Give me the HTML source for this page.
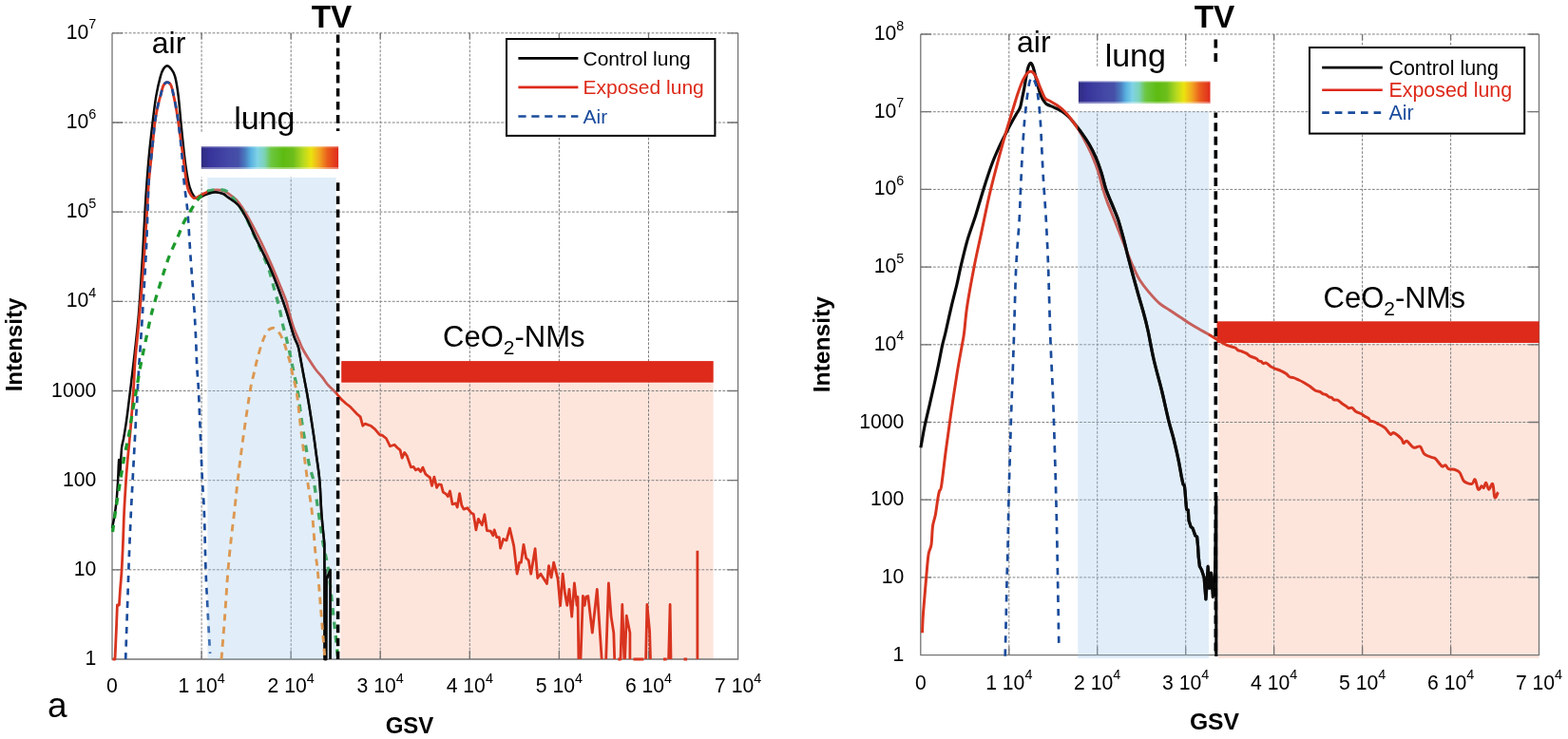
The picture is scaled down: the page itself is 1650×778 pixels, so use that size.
<!DOCTYPE html>
<html><head><meta charset="utf-8"><title>Figure</title>
<style>html,body{margin:0;padding:0;background:#fff;width:1650px;height:778px;overflow:hidden}svg{display:block}</style>
</head><body>
<svg width="1650" height="778" viewBox="0 0 1650 778" font-family="'Liberation Sans', Arial, sans-serif">
<rect width="1650" height="778" fill="#fff"/>
<defs><clipPath id="clipA"><rect x="218.3" y="186.9" width="135.3" height="510"/></clipPath><clipPath id="clipB"><rect x="1134.2" y="117.4" width="137.8" height="580"/></clipPath></defs>
<rect x="358.4" y="402.6" width="392.3" height="291.4" fill="#fde5dc"/>
<path d="M212.1,34.8V694M306.2,34.8V694M400.2,34.8V694M494.3,34.8V694M588.4,34.8V694M682.5,34.8V694M118,599.8H776.6M118,505.7H776.6M118,411.5H776.6M118,317.3H776.6M118,223.1H776.6M118,129H776.6M118,34.8H776.6" stroke="#808080" stroke-width="1" stroke-dasharray="2.8 1.6" fill="none"/>
<rect x="204" y="139" width="158" height="47.5" fill="#fff"/>
<path d="M118,34.8V694H776.6V34.8M212.1,694v-9M212.1,34.8v6M306.2,694v-9M306.2,34.8v6M400.2,694v-9M400.2,34.8v6M494.3,694v-9M494.3,34.8v6M588.4,694v-9M588.4,34.8v6M682.5,694v-9M682.5,34.8v6M118,599.8h11M776.6,599.8h-11M118,505.7h11M776.6,505.7h-11M118,411.5h11M776.6,411.5h-11M118,317.3h11M776.6,317.3h-11M118,223.1h11M776.6,223.1h-11M118,129h11M776.6,129h-11M118,34.8h11M776.6,34.8h-11" stroke="#747474" stroke-width="1.3" fill="none"/>
<defs><linearGradient id="cbA" x1="0" x2="1" y1="0" y2="0"><stop offset="0.000" stop-color="#2f2c80"/><stop offset="0.060" stop-color="#37339a"/><stop offset="0.200" stop-color="#4448a6"/><stop offset="0.270" stop-color="#4650a8"/><stop offset="0.320" stop-color="#4a7cc0"/><stop offset="0.360" stop-color="#58b0e0"/><stop offset="0.410" stop-color="#7fd3e6"/><stop offset="0.460" stop-color="#7cd3b8"/><stop offset="0.510" stop-color="#6cc640"/><stop offset="0.600" stop-color="#5dbb10"/><stop offset="0.670" stop-color="#6dbe1c"/><stop offset="0.740" stop-color="#b2d820"/><stop offset="0.800" stop-color="#ebe30f"/><stop offset="0.860" stop-color="#f2a820"/><stop offset="0.920" stop-color="#ea5e1c"/><stop offset="1.000" stop-color="#df2a1c"/></linearGradient></defs><rect x="211.8" y="154.2" width="144.3" height="23.6" fill="url(#cbA)"/><rect x="211.8" y="154.2" width="144.3" height="1.3" fill="#fff" opacity="0.3"/><rect x="211.8" y="176" width="144.3" height="1.8" fill="#fff" opacity="0.35"/>
<rect x="359.2" y="380.1" width="391.5" height="22.6" fill="#dd2a1a"/>
<path d="M118,556 C118.4,553.8 119.8,547.7 120.5,543 C121.2,538.3 121.9,533.8 122.5,528 C123.1,522.2 123.5,515.3 124,508 C124.5,500.7 124.8,485.3 125.2,484 C125.6,482.7 125.9,498.7 126.2,500 C126.5,501.3 126.5,496.7 126.8,492 C127.1,487.3 127.5,477 128,472 C128.5,467 129.3,465.7 130,462 C130.7,458.3 131.2,455 132,450 C132.8,445 133.7,438.4 134.5,432 C135.3,425.6 136.2,417.8 137,411.6 C137.8,405.4 138.3,400.6 139,395 C139.7,389.4 139.8,388.8 141,378 C142.2,367.2 144.5,348 146,330 C147.5,312 148.9,288.3 150,270 C151.1,251.7 152,232.7 152.7,220 C153.4,207.3 153.7,203.1 154.4,193.6 C155.1,184.1 155.9,173.6 156.9,162.8 C157.9,152 159.4,139.2 160.6,128.9 C161.8,118.6 162.9,109.1 164.3,101.1 C165.7,93 167.5,85.4 168.8,80.6 C170.1,75.8 170.8,74.4 172,72.5 C173.2,70.6 174.7,69.3 176,69.3 C177.3,69.3 178.6,70.6 180,72.5 C181.4,74.4 182.9,75.8 184.2,80.6 C185.5,85.4 186.7,93 187.7,101.1 C188.7,109.1 189.4,118.6 190.4,128.9 C191.4,139.2 192.9,154 193.9,162.8 C194.9,171.7 195.6,176.3 196.5,182 C197.4,187.7 198.3,192.8 199.6,197 C200.9,201.2 202.9,205.1 204.3,207 C205.7,208.9 206.4,208.8 208,208.6 C209.6,208.4 211.8,206.9 214,206 C216.2,205.1 218.6,203.8 221,203.2 C223.4,202.6 226,202.2 228.3,202.4 C230.6,202.6 233.1,203.2 235,204.1 C236.9,205 237.4,205.8 240,207.8 C242.6,209.8 247.5,212.2 250.8,216 C254.1,219.8 256.8,224.8 259.8,230.5 C262.8,236.2 265.8,243.7 268.8,250 C271.8,256.3 274.8,262 277.8,268.4 C280.8,274.8 283.8,281 286.8,288.2 C289.8,295.4 293.3,304.7 295.8,311.6 C298.3,318.5 299.8,322.7 302,329.6 C304.2,336.5 307.1,347.2 309,353.1 C310.9,359 312.5,360.8 313.7,364.7 C314.9,368.6 315.1,371.3 316,376.3 C316.9,381.3 318,387.5 319.4,394.8 C320.8,402.1 322.4,409.6 324.1,420 C325.9,430.4 328.4,447 329.9,457 C331.4,467 331.9,471.9 333,480 C334.1,488.1 335.4,495.5 336.3,505.5 C337.2,515.5 337.5,528.8 338.3,540 C339.1,551.2 340.9,567.5 341.4,573 M341.4,573 L341.6,694 L342.2,600 L343.2,694 L343.6,610 L347.6,600 L347.6,694" fill="none" stroke="#0b0b0b" stroke-width="2.5" stroke-linejoin="round"/>
<path d="M118.5,694 L121,694 L122.5,660 L123.4,637 L125.4,637 L126.5,620 C126.8,616.6 127.6,607.9 128.1,599.6 C128.6,591.3 129.1,579.9 129.5,570 C129.9,560.1 130.1,550.8 130.6,540 C131.1,529.2 132,515 132.6,505.5 C133.2,496 133.6,492.2 134.4,483 C135.2,473.8 136.5,461.9 137.5,450 C138.5,438.1 139.6,423.3 140.4,411.6 C141.2,399.9 141.3,391.9 142.2,380 C143.1,368.1 144.5,356.7 146,340 C147.5,323.3 149.5,300 151,280 C152.5,260 153.9,234.4 154.8,220 C155.7,205.6 155.6,203.1 156.4,193.6 C157.2,184.1 158.4,173.6 159.5,162.8 C160.6,152 161.9,137.4 163,128.9 C164.1,120.4 165,116.6 166,112 C167,107.4 167.8,104.8 168.8,101.1 C169.8,97.4 170.8,92.4 172,90 C173.2,87.6 174.7,86.7 176,86.7 C177.3,86.7 178.9,87.6 180,90 C181.1,92.4 182,97.4 182.8,101.1 C183.6,104.8 184.2,107.4 185,112 C185.8,116.6 186.5,120.4 187.7,128.9 C188.9,137.4 190.9,152 192.4,162.8 C193.9,173.6 195.3,186.9 196.5,193.6 C197.7,200.3 198.3,200.5 199.5,203 C200.7,205.5 202.3,207.8 203.7,208.5 C205.1,209.2 206.3,208.2 208,207.5 C209.7,206.8 211.8,205.1 214,204 C216.2,202.9 218.6,201.7 221,201 C223.4,200.3 226,199.8 228.3,199.8 C230.6,199.8 233.1,200.4 235,201 C236.9,201.6 237.7,202 240,203.6 C242.3,205.2 246,207.5 249,210.8 C252,214.1 255,218.6 258,223.4 C261,228.2 264,233.9 267,239.6 C270,245.3 273,251.3 276,257.6 C279,263.9 282,270.5 285,277.4 C288,284.3 291.3,292.4 294,299 C296.7,305.6 299.4,311.8 301.2,317 C302.9,322.2 303.2,325.3 304.5,330 C305.8,334.7 307.3,340.2 309,345 C310.7,349.8 313.2,355.2 314.8,358.9 C316.4,362.6 316.6,363.7 318.3,367 C320,370.3 322.9,374.9 325.2,378.6 C327.5,382.3 329.9,385.9 332.2,389 C334.5,392.1 337,394.4 339.1,397.1 C341.2,399.8 343.2,403.1 345,405.2 C346.8,407.3 348.3,408.3 350,410 C351.7,411.7 354.2,414.4 355,415.3 L355,415.3 L359.1,420.4 L364.3,425 L368.4,428.1 L375.6,435.8 L379.2,438.9 L381.7,448.2 L384.3,446.1 L390,448.2 L394.6,451.8 L399.2,457.4 L402.3,458.4 L406.4,461.5 L410.5,469.8 L415.1,468.2 L418,471.3 L421.1,473.9 L423.1,482.1 L425.7,476.4 L428.3,480 L432.4,491.9 L435,491.3 L437.5,494.9 L440.1,493.4 L442.7,496.5 L444.9,492.1 L447.8,499.1 L450.9,501.6 L452.4,502.7 L454.5,511.4 L456.9,502.1 L459.6,513.4 L461.7,509.9 L464.3,510.4 L466.3,518.1 L469.4,520.1 L471.4,522.7 L473.5,517 L476.1,530.9 L479.7,529.9 L481.2,534 L483.6,519.6 L485.8,532 L488,536.1 L491.9,534.7 L495.7,539.9 L498.3,541.2 L500.9,557.9 L503.4,546.3 L507.3,552.7 L509.9,541.7 L512.4,558.6 L516.3,559.2 L518.9,563.8 L520.2,557.9 L522.7,565.6 L525.3,565.6 L526.6,577.2 L529.7,567.4 L533,568.9 L536.4,556.1 L540.7,574.6 L544.1,604.2 L546.6,592.1 L548.4,592.1 L551,573.3 L553.6,587.4 L556.2,590 L558.7,604.2 L563.1,577.7 L565.7,608.5 L569,604.2 L575.5,614.5 L577.5,595.7 L580.1,608 L582.7,592.1 L587,609.3 L589.6,637.6 L592.2,604.1 L594.5,624.8 L596.8,637.4 L599,620.3 L601.7,649.1 L604.4,614 L607.1,637.4 L608,628.4 L608.9,694 M611,694 L613.4,627.5 L615.2,637.4 L616.6,628.4 L618.8,627.5 L623.3,666.2 L628.3,620.3 L633.2,694 M637.7,694 L640.4,614 L643.1,649.1 L645.8,666.2 L646.7,694 M650.3,694 L653,694 L654.8,636.5 L656.9,694 M657.6,694 L659.3,648.2 L662.9,666.2 L662.9,694 M666.5,694 L677.3,694 M679.6,694 L680.9,636.5 L683.6,664.4 L684.5,694 M698,694 L701.6,694 M703.6,694 L705.1,636.5 L706,694 M719.5,694 L723.1,694 M733.9,694 L733.9,579.8" fill="none" stroke="#d8341f" stroke-width="2.8" stroke-linejoin="round"/>
<path d="M132.2,694 C132.5,685 133.4,657.3 134,640 C134.6,622.7 135.1,606.7 135.7,590 C136.3,573.3 137.2,554.1 137.8,540 C138.5,525.9 139,517.2 139.6,505.5 C140.2,493.8 140.8,483.4 141.5,470 C142.2,456.6 143.2,438.3 144,425 C144.8,411.7 145,405.8 146,390 C147,374.2 148.7,351.7 150,330 C151.3,308.3 152.9,283.3 154,260 C155.1,236.7 155.7,206.2 156.6,190 C157.5,173.8 158.4,173 159.5,162.8 C160.6,152.6 161.9,137.4 163,128.9 C164.1,120.4 165,116.6 166,112 C167,107.4 167.8,104.8 168.8,101.1 C169.8,97.4 170.8,92.4 172,90 C173.2,87.6 174.7,86.7 176,86.7 C177.3,86.7 178.9,87.6 180,90 C181.1,92.4 182,97.4 182.8,101.1 C183.6,104.8 184.2,107.4 185,112 C185.8,116.6 186.6,120.4 187.7,128.9 C188.8,137.4 190.4,152 191.4,162.8 C192.4,173.6 192.9,183.6 193.9,193.6 C194.9,203.6 196.3,210.3 197.4,223 C198.5,235.7 199.4,254.3 200.5,270 C201.6,285.7 203,303.7 203.9,317 C204.8,330.3 205.2,338.7 205.8,350 C206.4,361.3 206.7,374.7 207.2,385 C207.7,395.3 208.4,399.1 209,411.6 C209.6,424.1 210.3,444.4 211,460 C211.7,475.6 212.2,492.2 212.9,505.5 C213.6,518.8 214.3,524.3 214.9,540 C215.5,555.7 215.9,582.9 216.5,599.6 C217.1,616.3 217.8,625.3 218.5,640 C219.2,654.7 220.6,680 221,688" fill="none" stroke="#1a4c9c" stroke-width="2.7" stroke-dasharray="7 6.5"/>
<path d="M118.5,560 C119.1,555.8 120.6,544.1 122,535 C123.4,525.9 125.2,514.7 126.7,505.5 C128.2,496.3 129.5,488.1 131,480 C132.5,471.9 134.3,464.8 135.7,457 C137.1,449.2 138.2,440.6 139.5,433 C140.8,425.4 142.1,419.3 143.4,411.6 C144.7,403.9 145.9,395.6 147.5,387 C149.1,378.4 150.9,369.8 153,360 C155.1,350.2 157.1,339.2 160,328 C162.9,316.8 167.4,302.6 170.4,292.9 C173.4,283.2 175.2,277.3 178,270 C180.8,262.7 184.7,255 187.2,249.2 C189.7,243.4 190.9,239.4 193,235 C195.1,230.6 197.8,226.6 200,222.9 C202.2,219.2 203.8,216 206,213 C208.2,210 210.6,207 212.9,205 C215.2,203 217,201.7 220,200.8 C223,199.9 227.6,199.4 230.9,199.6 C234.2,199.8 237,199.9 240,202.2 C243,204.5 246,209.4 249,213.5 C252,217.6 255,221.4 258,227 C261,232.6 264,240.2 267,246.8 C270,253.4 273.3,260.3 276,266.6 C278.7,272.9 281.1,278.3 283.2,284.6 C285.3,290.9 286.8,297.8 288.6,304.4 C290.4,311 292.5,318 294,324.2 C295.5,330.4 296.4,336.6 297.5,341.6 C298.6,346.6 299.8,349.7 300.9,354.3 C302,358.9 303.3,364.5 304.4,369.3 C305.5,374.1 306.3,378.6 307.3,383.2 C308.3,387.8 309.1,391.9 310.2,397.1 C311.3,402.3 312.6,407.2 313.7,414.4 C314.8,421.5 315.8,431.6 317,440 C318.2,448.4 319.6,456.7 321,465 C322.4,473.3 324,483.2 325.5,490 C327,496.8 328.6,499.7 329.9,505.5 C331.1,511.3 332.1,519.2 333,525 C333.9,530.8 334,532.2 335.2,540 C336.4,547.8 338.3,562.1 340,572 C341.7,581.9 343.8,588.3 345.5,599.6 C347.2,610.9 348.3,624.3 350,640 C351.7,655.7 354.8,685 355.8,694" fill="none" stroke="#1c9a2c" stroke-width="3.3" stroke-dasharray="7.5 7"/>
<rect x="218.3" y="186.9" width="135.3" height="507.1" fill="rgb(155,198,235)" fill-opacity="0.3"/>
<path d="M118,556 C118.4,553.8 119.8,547.7 120.5,543 C121.2,538.3 121.9,533.8 122.5,528 C123.1,522.2 123.5,515.3 124,508 C124.5,500.7 124.8,485.3 125.2,484 C125.6,482.7 125.9,498.7 126.2,500 C126.5,501.3 126.5,496.7 126.8,492 C127.1,487.3 127.5,477 128,472 C128.5,467 129.3,465.7 130,462 C130.7,458.3 131.2,455 132,450 C132.8,445 133.7,438.4 134.5,432 C135.3,425.6 136.2,417.8 137,411.6 C137.8,405.4 138.3,400.6 139,395 C139.7,389.4 139.8,388.8 141,378 C142.2,367.2 144.5,348 146,330 C147.5,312 148.9,288.3 150,270 C151.1,251.7 152,232.7 152.7,220 C153.4,207.3 153.7,203.1 154.4,193.6 C155.1,184.1 155.9,173.6 156.9,162.8 C157.9,152 159.4,139.2 160.6,128.9 C161.8,118.6 162.9,109.1 164.3,101.1 C165.7,93 167.5,85.4 168.8,80.6 C170.1,75.8 170.8,74.4 172,72.5 C173.2,70.6 174.7,69.3 176,69.3 C177.3,69.3 178.6,70.6 180,72.5 C181.4,74.4 182.9,75.8 184.2,80.6 C185.5,85.4 186.7,93 187.7,101.1 C188.7,109.1 189.4,118.6 190.4,128.9 C191.4,139.2 192.9,154 193.9,162.8 C194.9,171.7 195.6,176.3 196.5,182 C197.4,187.7 198.3,192.8 199.6,197 C200.9,201.2 202.9,205.1 204.3,207 C205.7,208.9 206.4,208.8 208,208.6 C209.6,208.4 211.8,206.9 214,206 C216.2,205.1 218.6,203.8 221,203.2 C223.4,202.6 226,202.2 228.3,202.4 C230.6,202.6 233.1,203.2 235,204.1 C236.9,205 237.4,205.8 240,207.8 C242.6,209.8 247.5,212.2 250.8,216 C254.1,219.8 256.8,224.8 259.8,230.5 C262.8,236.2 265.8,243.7 268.8,250 C271.8,256.3 274.8,262 277.8,268.4 C280.8,274.8 283.8,281 286.8,288.2 C289.8,295.4 293.3,304.7 295.8,311.6 C298.3,318.5 299.8,322.7 302,329.6 C304.2,336.5 307.1,347.2 309,353.1 C310.9,359 312.5,360.8 313.7,364.7 C314.9,368.6 315.1,371.3 316,376.3 C316.9,381.3 318,387.5 319.4,394.8 C320.8,402.1 322.4,409.6 324.1,420 C325.9,430.4 328.4,447 329.9,457 C331.4,467 331.9,471.9 333,480 C334.1,488.1 335.4,495.5 336.3,505.5 C337.2,515.5 337.5,528.8 338.3,540 C339.1,551.2 340.9,567.5 341.4,573 M341.4,573 L341.6,694 L342.2,600 L343.2,694 L343.6,610 L347.6,600 L347.6,694" fill="none" stroke="#0b0b0b" stroke-width="2.5" stroke-linejoin="round" clip-path="url(#clipA)"/>
<path d="M233,694 C233.6,686.7 235.3,665.7 236.5,650 C237.7,634.3 238.8,614.2 240,600 C241.2,585.8 242.4,575 243.5,565 C244.6,555 245.4,549.9 246.5,540 C247.6,530.1 248.6,518.8 250.2,505.5 C251.8,492.2 253.8,475.8 256,460 C258.2,444.2 261.5,421.9 263.3,411 C265.1,400.1 265.6,400 266.8,394.8 C268,389.6 269,384.9 270.3,379.7 C271.6,374.5 273.5,367.8 274.9,363.5 C276.3,359.2 277.3,356.6 278.5,354 C279.7,351.4 280.8,349.4 282,348 C283.2,346.6 284.7,345.8 286,345.5 C287.3,345.2 288.5,345 290,346.2 C291.5,347.4 293.6,349.7 295.2,352.6 C296.8,355.5 298.3,359.2 299.8,363.5 C301.3,367.8 303.1,374 304.4,378.6 C305.6,383.2 306.2,386.7 307.3,391.3 C308.4,395.9 309.8,401.5 310.8,406.3 C311.8,411.1 312.1,411.9 313.1,420 C314.1,428.1 315.3,440.8 317,455 C318.7,469.2 321.6,491.3 323.5,505.5 C325.4,519.7 327,527.6 328.4,540 C329.8,552.4 330.7,570 331.7,580 C332.7,590 333.2,590 334.2,600 C335.2,610 336.2,624.3 337.5,640 C338.8,655.7 341.2,685 342,694" fill="none" stroke="#dc9852" stroke-width="2.9" stroke-dasharray="7.5 6"/>
<path d="M355.6,36.5V138" stroke="#000" stroke-width="3.5" stroke-dasharray="8.6 5.5"/><path d="M355.6,192.3V694" stroke="#000" stroke-width="3.5" stroke-dasharray="8.6 5.5"/>
<rect x="1282" y="361.5" width="337.5" height="331.6" fill="#fde5dc"/>
<path d="M1061.8,36V689.6M1154.7,36V689.6M1247.7,36V689.6M1340.6,36V689.6M1433.6,36V689.6M1526.6,36V689.6M968.8,607.9H1619.5M968.8,526.2H1619.5M968.8,444.5H1619.5M968.8,362.8H1619.5M968.8,281.1H1619.5M968.8,199.4H1619.5M968.8,117.7H1619.5M968.8,36H1619.5" stroke="#808080" stroke-width="1" stroke-dasharray="2.8 1.6" fill="none"/>
<rect x="1128" y="70" width="148" height="47" fill="#fff"/>
<path d="M968.8,36V689.6H1619.5V36M1061.8,689.6v-9M1061.8,36v6M1154.7,689.6v-9M1154.7,36v6M1247.7,689.6v-9M1247.7,36v6M1340.6,689.6v-9M1340.6,36v6M1433.6,689.6v-9M1433.6,36v6M1526.6,689.6v-9M1526.6,36v6M968.8,607.9h11M1619.5,607.9h-11M968.8,526.2h11M1619.5,526.2h-11M968.8,444.5h11M1619.5,444.5h-11M968.8,362.8h11M1619.5,362.8h-11M968.8,281.1h11M1619.5,281.1h-11M968.8,199.4h11M1619.5,199.4h-11M968.8,117.7h11M1619.5,117.7h-11M968.8,36h11M1619.5,36h-11" stroke="#747474" stroke-width="1.3" fill="none"/>
<defs><linearGradient id="cbB" x1="0" x2="1" y1="0" y2="0"><stop offset="0.000" stop-color="#2f2c80"/><stop offset="0.060" stop-color="#37339a"/><stop offset="0.200" stop-color="#4448a6"/><stop offset="0.270" stop-color="#4650a8"/><stop offset="0.320" stop-color="#4a7cc0"/><stop offset="0.360" stop-color="#58b0e0"/><stop offset="0.410" stop-color="#7fd3e6"/><stop offset="0.460" stop-color="#7cd3b8"/><stop offset="0.510" stop-color="#6cc640"/><stop offset="0.600" stop-color="#5dbb10"/><stop offset="0.670" stop-color="#6dbe1c"/><stop offset="0.740" stop-color="#b2d820"/><stop offset="0.800" stop-color="#ebe30f"/><stop offset="0.860" stop-color="#f2a820"/><stop offset="0.920" stop-color="#ea5e1c"/><stop offset="1.000" stop-color="#df2a1c"/></linearGradient></defs><rect x="1134.9" y="85.6" width="138.6" height="23.2" fill="url(#cbB)"/><rect x="1134.9" y="85.6" width="138.6" height="1.3" fill="#fff" opacity="0.3"/><rect x="1134.9" y="107" width="138.6" height="1.8" fill="#fff" opacity="0.35"/>
<rect x="1280.5" y="338.3" width="339.2" height="22.7" fill="#dd2a1a"/>
<path d="M968.9,471.3 C969.6,467.5 971.5,456.1 973.1,448.3 C974.7,440.5 977,431.5 978.6,424.3 C980.2,417.1 981.5,411.6 983,405 C984.5,398.4 985.8,392 987.3,385 C988.8,378 990.4,368.9 991.7,363.1 C993,357.3 993.4,357 995,350 C996.6,343 999.5,329.6 1001.5,321.1 C1003.5,312.6 1005.4,305.9 1007,299 C1008.6,292.1 1009.3,287.6 1011.2,279.8 C1013.1,272 1015.6,260.9 1018.2,252.1 C1020.8,243.2 1023.9,235.6 1026.7,226.7 C1029.5,217.8 1032.4,207.3 1035.2,198.4 C1038,189.5 1040.9,180.5 1043.7,173 C1046.5,165.5 1049.3,159.3 1052.1,153.2 C1054.9,147.1 1057.8,141.7 1060.6,136.3 C1063.4,130.9 1067,124.5 1069.1,120.7 C1071.2,116.9 1072.2,116.5 1073.3,113.7 C1074.4,110.9 1074.8,107.3 1075.5,104 C1076.2,100.7 1076.8,97.9 1077.6,93.9 C1078.3,89.9 1079.3,83.8 1080,80 C1080.7,76.2 1081.1,73.5 1081.8,71.3 C1082.5,69 1083.3,67 1084.1,66.5 C1084.8,66 1085.5,66.8 1086.3,68.5 C1087.1,70.2 1088,73.4 1088.9,77 C1089.9,80.6 1090.9,86 1092,90 C1093.1,94 1094.3,98.2 1095.5,101 C1096.7,103.8 1097.9,105.5 1099,107 C1100.1,108.5 1100.3,109 1102,110 C1103.7,111 1106.7,111.9 1109.2,113.1 C1111.7,114.3 1114.4,115.3 1117,117 C1119.6,118.7 1122.4,120.8 1124.7,123.1 C1127,125.3 1128.9,127.8 1131,130.5 C1133.1,133.2 1135,135.5 1137.5,139 C1140,142.5 1143.2,146.9 1145.9,151.5 C1148.6,156.1 1151.2,161.2 1153.4,166.3 C1155.6,171.4 1157.2,176.4 1159,182 C1160.8,187.6 1162.1,194.2 1163.9,199.6 C1165.7,205 1168,209.6 1170,214.7 C1172,219.8 1174.1,223.9 1176.2,230.1 C1178.3,236.3 1180.6,245 1182.4,251.7 C1184.2,258.4 1185.4,264 1187,270.2 C1188.6,276.4 1190.2,282.5 1192,289 C1193.8,295.5 1195.7,302.5 1197.5,309 C1199.3,315.5 1201.2,321.5 1203,328 C1204.8,334.5 1206.2,339.7 1208,348 C1209.8,356.3 1211.6,367.4 1214,378 C1216.4,388.6 1219.9,400.6 1222.6,411.5 C1225.2,422.4 1227.8,434.9 1229.9,443.3 C1232,451.7 1233.4,455.5 1235,462 C1236.6,468.5 1238.3,475.7 1239.7,482.3 C1241.1,488.9 1242.7,498.6 1243.3,501.9 L1243.3,501.9 L1245,510 L1246.2,510.5 L1247,516.5 L1248,530 L1248.6,536.2 L1250.3,537 L1251,548 L1253.2,554.7 L1255,556 L1257.8,563.9 L1259.6,565 L1260.6,575.5 L1261.2,586 L1262.4,596.3 L1264.5,600 L1267.1,607.9 L1268.9,631 L1271.2,596.3 L1272.8,619.4 L1274.5,603.2 L1276.3,628.7 L1278.6,600.9 L1279.8,522.3 L1279.8,691" fill="none" stroke="#0b0b0b" stroke-width="3.2" stroke-linejoin="round"/>
<path d="M970.5,666.3 C970.6,663.6 970.9,654.9 971.2,650 C971.5,645.1 971.6,644 972.2,637 C972.8,630 973.9,616.7 974.7,607.7 C975.5,598.8 976.2,589 977.1,583.3 C978,577.6 979.3,578.4 980,573.5 C980.7,568.6 980.8,559.3 981.5,554 C982.2,548.7 983.5,546.6 984.4,541.7 C985.3,536.8 986.2,528.8 986.9,524.7 C987.6,520.6 987.9,519.2 988.5,517 C989.1,514.8 989.5,518.4 990.6,511.7 C991.7,505 993.4,489.1 995,476.7 C996.6,464.3 998.4,451.2 1000.4,437.4 C1002.4,423.6 1005,406.1 1007,393.7 C1009,381.3 1011.1,370.4 1012.4,363.1 C1013.7,355.8 1013.7,357 1014.6,350 C1015.5,343 1016.1,332.8 1017.9,321.1 C1019.7,309.4 1022.9,292.2 1025.3,279.8 C1027.7,267.4 1029.8,258.6 1032.4,246.4 C1035,234.2 1038,219.1 1040.8,206.9 C1043.6,194.7 1046.5,183.8 1049.3,173 C1052.1,162.2 1055,151.8 1057.8,141.9 C1060.6,132 1064.2,120.7 1066.3,113.7 C1068.4,106.7 1069.1,104.2 1070.5,100 C1071.9,95.8 1073.4,91.5 1074.7,88.2 C1076,85 1077.3,82.5 1078.5,80.5 C1079.7,78.5 1080.7,77.2 1081.8,76.3 C1082.9,75.4 1084,75 1085,75.2 C1086,75.4 1087,76.2 1088,77.5 C1089,78.8 1089.9,80.4 1091.1,83 C1092.3,85.6 1093.5,89.6 1095,93 C1096.5,96.4 1098.2,101.3 1099.8,103.5 C1101.4,105.7 1102.5,105 1104.6,106.2 C1106.7,107.4 1109.7,109 1112.3,110.8 C1114.9,112.6 1117.4,114.4 1120,117 C1122.6,119.6 1125.2,122.9 1127.7,126.2 C1130.2,129.5 1132.8,132.9 1135.3,137 C1137.8,141.1 1140.5,146 1143,150.9 C1145.5,155.8 1148.2,161.3 1150.3,166.3 C1152.4,171.3 1154,175.4 1155.8,181 C1157.5,186.6 1159.2,194.2 1160.8,199.6 C1162.4,204.9 1163.6,208.3 1165.4,213.1 C1167.2,217.9 1169.5,223.3 1171.6,228.5 C1173.6,233.7 1175.8,239.1 1177.7,244 C1179.6,248.9 1181.3,253.2 1183.1,257.8 C1184.9,262.4 1186.8,267.6 1188.5,271.7 C1190.2,275.8 1191.4,278.6 1193.2,282.5 C1195,286.4 1196.7,290.7 1199.3,294.8 C1201.9,298.9 1205.1,303 1208.6,307.1 C1212.1,311.2 1216.5,316.2 1220.1,319.4 C1223.7,322.5 1226.3,323.6 1230,326 C1233.7,328.4 1238.6,331.8 1242.1,334.1 C1245.6,336.4 1247.8,338 1251,340 C1254.2,342 1258.4,344.5 1261.6,346.3 C1264.8,348.1 1267.2,349.4 1270,351 C1272.8,352.6 1276.4,354.7 1278.7,356.1 C1281,357.5 1282,358.3 1284,359.5 C1286,360.7 1288.9,362.5 1290.9,363.4 C1292.9,364.3 1294.5,364.5 1296,365 C1297.5,365.5 1298.9,365.6 1300,366.2 C1301.1,366.8 1301.4,368.1 1302.6,368.7 C1303.8,369.3 1305.5,369.4 1307,370 C1308.5,370.6 1310.4,371.3 1311.8,372.1 C1313.2,372.9 1313.7,374 1315.4,374.9 C1317.1,375.8 1320.6,376.7 1322.1,377.5 C1323.6,378.3 1323.3,379.3 1324.2,379.8 C1325.1,380.3 1326.4,380.1 1327.2,380.6 C1328,381.1 1328.4,382.4 1329.3,382.6 C1330.2,382.9 1331.1,381.6 1332.4,382.1 C1333.7,382.6 1335.5,384.8 1337,385.7 C1338.5,386.6 1339.3,387 1341.1,387.8 C1342.9,388.6 1345.7,389.4 1347.8,390.3 C1349.9,391.2 1352.2,392.5 1353.5,393.4 C1354.8,394.3 1354.9,395 1355.5,395.6 C1356.1,396.2 1356.3,396.5 1357.3,396.9 C1358.2,397.2 1359.7,397.2 1361.2,397.7 C1362.8,398.2 1364.8,399.2 1366.6,400 C1368.4,400.8 1370.1,401.6 1372,402.7 C1373.9,403.8 1376,405.2 1378.1,406.6 C1380.1,408 1382.5,410.2 1384.3,411.2 C1386.1,412.2 1387.6,411.8 1388.9,412.4 C1390.2,413 1391,414.2 1392,414.7 C1393,415.2 1393.9,414.8 1395.1,415.4 C1396.3,416 1398,417.6 1399,418.1 C1400,418.6 1400.5,418.1 1401.3,418.5 C1402.1,418.9 1402.6,420.4 1403.6,420.8 C1404.6,421.2 1406,420.6 1407.4,421.2 C1408.8,421.8 1410.5,423.6 1412.1,424.7 C1413.6,425.8 1415.5,427 1416.7,427.8 C1417.9,428.6 1418,429.4 1419,429.7 C1420,429.9 1421.5,428.7 1422.8,429.3 C1424.1,429.9 1425.2,432.2 1426.7,433.2 C1428.2,434.2 1430.5,434.7 1432.1,435.5 C1433.6,436.3 1434.7,437.4 1436,438.2 C1437.3,439 1438.8,439.3 1439.8,440.1 C1440.8,440.9 1441.2,442.6 1442.1,443.2 C1443,443.8 1443.8,443.2 1445,443.6 C1446.2,444 1447.2,444.7 1449.3,445.8 C1451.3,446.9 1455,448.5 1457.3,450.4 C1459.6,452.3 1461.5,456.4 1463.1,457.3 C1464.6,458.2 1464.7,454.9 1466.6,455.7 C1468.5,456.5 1473,460.2 1474.7,462 C1476.4,463.8 1476,466.2 1477,466.6 C1478,467 1478.8,463.5 1480.5,464.3 C1482.2,465.1 1485.1,470.2 1487.4,471.2 C1489.7,472.2 1492.4,468.9 1494.3,470.1 C1496.2,471.3 1496.9,476.3 1499,478.2 C1501.1,480.1 1505.2,480.8 1507.1,481.6 C1509,482.4 1508.8,481.2 1510.5,482.8 C1512.2,484.4 1515.8,489.8 1517.5,490.9 C1519.2,492 1519.8,489.2 1520.9,489.7 C1522.1,490.2 1522.9,492.9 1524.4,493.7 C1526,494.5 1528.3,493.7 1530.2,494.3 C1532.1,494.9 1534.3,495.3 1536,497.4 C1537.7,499.4 1538.5,504.6 1540.6,506.6 C1542.7,508.6 1546.8,509.7 1548.7,509.4 C1550.6,509.1 1551.1,503.8 1552.2,504.8 C1553.3,505.8 1554.4,514.1 1555.6,515.2 C1556.8,516.4 1558.1,512 1559.1,511.7 C1560.1,511.4 1560.6,514.1 1561.4,513.5 C1562.2,512.9 1562.8,507.9 1563.7,508.2 C1564.6,508.5 1565.5,515 1566.7,515.2 C1567.9,515.4 1569.7,508 1570.7,509.4 C1571.8,510.8 1572,522.2 1573,523.7 C1574,525.2 1575.8,519.1 1576.4,518.2" fill="none" stroke="#d8341f" stroke-width="3" stroke-linejoin="round"/>
<path d="M1057.7,690.7 C1057.9,683.9 1058.4,663.8 1058.7,650 C1059,636.2 1059.3,621 1059.6,608.2 C1059.9,595.5 1060.3,588.2 1060.6,573.5 C1060.9,558.8 1061.2,535.6 1061.6,520 C1062,504.4 1062.4,492.6 1062.8,480 C1063.2,467.4 1063.3,460.6 1063.8,444.4 C1064.3,428.2 1065.5,398.5 1066,382.8 C1066.5,367.1 1066.6,366.8 1067.1,350 C1067.6,333.2 1068.3,301.2 1069.2,281.8 C1070.1,262.4 1071.7,247.3 1072.5,233.7 C1073.3,220.1 1073.5,212.1 1074,200 C1074.5,187.9 1075.2,171.9 1075.8,161.1 C1076.4,150.3 1077,142.3 1077.5,135 C1078,127.7 1078.4,123.7 1079.1,117.4 C1079.8,111.1 1080.8,102.2 1081.5,97 C1082.2,91.8 1082.8,88.6 1083.5,86 C1084.2,83.4 1084.8,81.6 1085.6,81.3 C1086.3,81 1087.1,82 1088,84 C1088.9,86 1090,87.1 1091.1,93.4 C1092.2,99.7 1093.6,111.5 1094.4,121.8 C1095.2,132.1 1095.7,144.8 1096.2,155 C1096.7,165.2 1097.2,175.5 1097.6,183 C1098,190.5 1098.2,191.6 1098.7,200 C1099.2,208.4 1100.2,220.1 1100.9,233.7 C1101.6,247.3 1102.4,261.6 1103.1,281.8 C1103.8,302 1104.6,334.5 1105.3,355 C1106,375.5 1106.9,389.7 1107.5,404.6 C1108.1,419.5 1108.4,425.2 1109,444.4 C1109.6,463.6 1110.6,496.9 1111.2,520 C1111.8,543.1 1112.1,556.5 1112.6,583.3 C1113.1,610.1 1114,664.7 1114.3,681" fill="none" stroke="#1a4c9c" stroke-width="2.7" stroke-dasharray="7.3 7"/>
<rect x="1134.2" y="117.4" width="137.8" height="575.7" fill="rgb(155,198,235)" fill-opacity="0.3"/>
<path d="M968.9,471.3 C969.6,467.5 971.5,456.1 973.1,448.3 C974.7,440.5 977,431.5 978.6,424.3 C980.2,417.1 981.5,411.6 983,405 C984.5,398.4 985.8,392 987.3,385 C988.8,378 990.4,368.9 991.7,363.1 C993,357.3 993.4,357 995,350 C996.6,343 999.5,329.6 1001.5,321.1 C1003.5,312.6 1005.4,305.9 1007,299 C1008.6,292.1 1009.3,287.6 1011.2,279.8 C1013.1,272 1015.6,260.9 1018.2,252.1 C1020.8,243.2 1023.9,235.6 1026.7,226.7 C1029.5,217.8 1032.4,207.3 1035.2,198.4 C1038,189.5 1040.9,180.5 1043.7,173 C1046.5,165.5 1049.3,159.3 1052.1,153.2 C1054.9,147.1 1057.8,141.7 1060.6,136.3 C1063.4,130.9 1067,124.5 1069.1,120.7 C1071.2,116.9 1072.2,116.5 1073.3,113.7 C1074.4,110.9 1074.8,107.3 1075.5,104 C1076.2,100.7 1076.8,97.9 1077.6,93.9 C1078.3,89.9 1079.3,83.8 1080,80 C1080.7,76.2 1081.1,73.5 1081.8,71.3 C1082.5,69 1083.3,67 1084.1,66.5 C1084.8,66 1085.5,66.8 1086.3,68.5 C1087.1,70.2 1088,73.4 1088.9,77 C1089.9,80.6 1090.9,86 1092,90 C1093.1,94 1094.3,98.2 1095.5,101 C1096.7,103.8 1097.9,105.5 1099,107 C1100.1,108.5 1100.3,109 1102,110 C1103.7,111 1106.7,111.9 1109.2,113.1 C1111.7,114.3 1114.4,115.3 1117,117 C1119.6,118.7 1122.4,120.8 1124.7,123.1 C1127,125.3 1128.9,127.8 1131,130.5 C1133.1,133.2 1135,135.5 1137.5,139 C1140,142.5 1143.2,146.9 1145.9,151.5 C1148.6,156.1 1151.2,161.2 1153.4,166.3 C1155.6,171.4 1157.2,176.4 1159,182 C1160.8,187.6 1162.1,194.2 1163.9,199.6 C1165.7,205 1168,209.6 1170,214.7 C1172,219.8 1174.1,223.9 1176.2,230.1 C1178.3,236.3 1180.6,245 1182.4,251.7 C1184.2,258.4 1185.4,264 1187,270.2 C1188.6,276.4 1190.2,282.5 1192,289 C1193.8,295.5 1195.7,302.5 1197.5,309 C1199.3,315.5 1201.2,321.5 1203,328 C1204.8,334.5 1206.2,339.7 1208,348 C1209.8,356.3 1211.6,367.4 1214,378 C1216.4,388.6 1219.9,400.6 1222.6,411.5 C1225.2,422.4 1227.8,434.9 1229.9,443.3 C1232,451.7 1233.4,455.5 1235,462 C1236.6,468.5 1238.3,475.7 1239.7,482.3 C1241.1,488.9 1242.7,498.6 1243.3,501.9 L1243.3,501.9 L1245,510 L1246.2,510.5 L1247,516.5 L1248,530 L1248.6,536.2 L1250.3,537 L1251,548 L1253.2,554.7 L1255,556 L1257.8,563.9 L1259.6,565 L1260.6,575.5 L1261.2,586 L1262.4,596.3 L1264.5,600 L1267.1,607.9 L1268.9,631 L1271.2,596.3 L1272.8,619.4 L1274.5,603.2 L1276.3,628.7 L1278.6,600.9 L1279.8,522.3 L1279.8,691" fill="none" stroke="#0b0b0b" stroke-width="3.2" stroke-linejoin="round" clip-path="url(#clipB)"/>
<path d="M1279.3,41.6V70" stroke="#000" stroke-width="3.6" stroke-dasharray="9 5.4"/><path d="M1279.3,118.4V690" stroke="#000" stroke-width="3.6" stroke-dasharray="9 5.4" stroke-dashoffset="3.5"/>
<rect x="533" y="41" width="219.4" height="101.9" fill="#fff" stroke="#000" stroke-width="2"/><path d="M545.4,61.4H608.4" stroke="#000" stroke-width="2.6"/><path d="M545.4,91.9H608.4" stroke="#dd2a1a" stroke-width="2.6"/><path d="M545.4,122.5H608.4" stroke="#1a4c9c" stroke-width="2.6" stroke-dasharray="8.2 5.7"/><g font-size="21"><text x="613.5" y="68.9" fill="#000">Control lung</text><text x="613.5" y="99.4" fill="#dd2a1a">Exposed lung</text><text x="613.5" y="130" fill="#1a4c9c">Air</text></g>
<rect x="1378" y="50" width="226.2" height="90.6" fill="#fff" stroke="#000" stroke-width="2"/><path d="M1391.2,71.1H1454.8" stroke="#000" stroke-width="2.6"/><path d="M1391.2,94.8H1454.8" stroke="#dd2a1a" stroke-width="2.6"/><path d="M1391.2,118.6H1454.8" stroke="#1a4c9c" stroke-width="2.6" stroke-dasharray="7.6 6"/><g font-size="21.4"><text x="1461.5" y="78.6" fill="#000">Control lung</text><text x="1461.5" y="102.3" fill="#dd2a1a">Exposed lung</text><text x="1461.5" y="126.1" fill="#1a4c9c">Air</text></g>
<g font-size="22.4"><text transform="translate(101.2 700) scale(0.945 1)" text-anchor="end">1</text><text transform="translate(101.2 605.8) scale(0.945 1)" text-anchor="end">10</text><text transform="translate(101.2 511.7) scale(0.945 1)" text-anchor="end">100</text><text transform="translate(101.2 417.5) scale(0.945 1)" text-anchor="end">1000</text><text transform="translate(101.2 323.3) scale(0.945 1)" text-anchor="end">10<tspan font-size="15.2" dy="-10.5">4</tspan></text><text transform="translate(101.2 229.1) scale(0.945 1)" text-anchor="end">10<tspan font-size="15.2" dy="-10.5">5</tspan></text><text transform="translate(101.2 135) scale(0.945 1)" text-anchor="end">10<tspan font-size="15.2" dy="-10.5">6</tspan></text><text transform="translate(101.2 40.8) scale(0.945 1)" text-anchor="end">10<tspan font-size="15.2" dy="-10.5">7</tspan></text></g>
<g font-size="22.4"><text transform="translate(118 729) scale(0.945 1)" text-anchor="middle">0</text><text transform="translate(212.1 729) scale(0.945 1)" text-anchor="middle">1 10<tspan font-size="15.2" dy="-10.5">4</tspan></text><text transform="translate(306.2 729) scale(0.945 1)" text-anchor="middle">2 10<tspan font-size="15.2" dy="-10.5">4</tspan></text><text transform="translate(400.2 729) scale(0.945 1)" text-anchor="middle">3 10<tspan font-size="15.2" dy="-10.5">4</tspan></text><text transform="translate(494.3 729) scale(0.945 1)" text-anchor="middle">4 10<tspan font-size="15.2" dy="-10.5">4</tspan></text><text transform="translate(588.4 729) scale(0.945 1)" text-anchor="middle">5 10<tspan font-size="15.2" dy="-10.5">4</tspan></text><text transform="translate(682.5 729) scale(0.945 1)" text-anchor="middle">6 10<tspan font-size="15.2" dy="-10.5">4</tspan></text><text transform="translate(776.6 729) scale(0.945 1)" text-anchor="middle">7 10<tspan font-size="15.2" dy="-10.5">4</tspan></text></g>
<g font-size="22.4"><text transform="translate(951.3 695.6) scale(0.945 1)" text-anchor="end">1</text><text transform="translate(951.3 613.9) scale(0.945 1)" text-anchor="end">10</text><text transform="translate(951.3 532.2) scale(0.945 1)" text-anchor="end">100</text><text transform="translate(951.3 450.5) scale(0.945 1)" text-anchor="end">1000</text><text transform="translate(951.3 368.8) scale(0.945 1)" text-anchor="end">10<tspan font-size="15.2" dy="-10.5">4</tspan></text><text transform="translate(951.3 287.1) scale(0.945 1)" text-anchor="end">10<tspan font-size="15.2" dy="-10.5">5</tspan></text><text transform="translate(951.3 205.4) scale(0.945 1)" text-anchor="end">10<tspan font-size="15.2" dy="-10.5">6</tspan></text><text transform="translate(951.3 123.7) scale(0.945 1)" text-anchor="end">10<tspan font-size="15.2" dy="-10.5">7</tspan></text><text transform="translate(951.3 42) scale(0.945 1)" text-anchor="end">10<tspan font-size="15.2" dy="-10.5">8</tspan></text></g>
<g font-size="22.4"><text transform="translate(968.8 725.8) scale(0.945 1)" text-anchor="middle">0</text><text transform="translate(1061.8 725.8) scale(0.945 1)" text-anchor="middle">1 10<tspan font-size="15.2" dy="-10.5">4</tspan></text><text transform="translate(1154.7 725.8) scale(0.945 1)" text-anchor="middle">2 10<tspan font-size="15.2" dy="-10.5">4</tspan></text><text transform="translate(1247.7 725.8) scale(0.945 1)" text-anchor="middle">3 10<tspan font-size="15.2" dy="-10.5">4</tspan></text><text transform="translate(1340.6 725.8) scale(0.945 1)" text-anchor="middle">4 10<tspan font-size="15.2" dy="-10.5">4</tspan></text><text transform="translate(1433.6 725.8) scale(0.945 1)" text-anchor="middle">5 10<tspan font-size="15.2" dy="-10.5">4</tspan></text><text transform="translate(1526.6 725.8) scale(0.945 1)" text-anchor="middle">6 10<tspan font-size="15.2" dy="-10.5">4</tspan></text><text transform="translate(1619.5 725.8) scale(0.945 1)" text-anchor="middle">7 10<tspan font-size="15.2" dy="-10.5">4</tspan></text></g>
<text x="349" y="28.6" font-size="33.3" font-weight="bold" text-anchor="middle">TV</text>
<text x="1278" y="28.6" font-size="33.3" font-weight="bold" text-anchor="middle">TV</text>
<text x="177.5" y="55.7" font-size="32" text-anchor="middle">air</text>
<text x="1087.8" y="55.1" font-size="32" text-anchor="middle">air</text>
<text x="278.4" y="135.5" font-size="34" text-anchor="middle">lung</text>
<text x="1194.8" y="70.4" font-size="34" text-anchor="middle">lung</text>
<text x="466" y="365.3" font-size="31">CeO<tspan font-size="21" dy="8">2</tspan><tspan dy="-8">-NMs</tspan></text>
<text x="1392.6" y="324.2" font-size="31">CeO<tspan font-size="21" dy="8">2</tspan><tspan dy="-8">-NMs</tspan></text>
<text transform="translate(22.8,363) rotate(-90)" font-size="24" font-weight="bold" text-anchor="middle">Intensity</text>
<text transform="translate(872.8,362.7) rotate(-90)" font-size="24.6" font-weight="bold" text-anchor="middle">Intensity</text>
<text x="431" y="771.5" font-size="24" font-weight="bold" text-anchor="middle">GSV</text>
<text x="1278" y="768.3" font-size="24.7" font-weight="bold" text-anchor="middle">GSV</text>
<text x="50" y="755.2" font-size="37">a</text>
</svg>
</body></html>
